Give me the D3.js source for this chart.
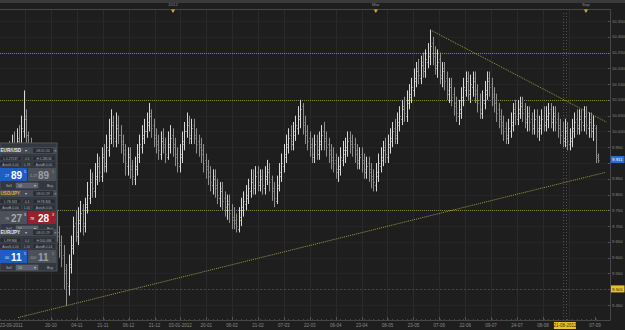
<!DOCTYPE html>
<html><head><meta charset="utf-8">
<script src="https://cdn.jsdelivr.net/npm/d3@7"></script>
<style>html,body{margin:0;padding:0;background:#1e1e1e;overflow:hidden}svg{display:block}text{font-family:"Liberation Sans",Arial,sans-serif}</style>
</head><body><svg id="c" width="625" height="330"></svg>
<script>
const opens=[9.86,9.88,9.92,9.90,9.94,9.92,9.96,9.93,9.98,9.95,10.00,10.05,9.99,9.96,9.93,9.91,9.86,9.85,9.81,9.80,9.76,9.75,9.71,9.69,9.72,9.67,9.65,9.61,9.56,9.51,9.57,9.63,9.71,9.67,9.71,9.75,9.70,9.77,9.79,9.85,9.81,9.85,9.90,9.86,9.93,9.89,9.94,9.98,10.03,9.97,10.02,9.99,9.97,9.94,9.89,9.93,9.89,9.85,9.88,9.92,9.95,9.99,10.00,10.02,10.06,10.02,9.99,9.97,9.93,9.98,9.96,9.92,9.95,9.99,9.96,9.93,9.89,9.92,9.96,10.00,10.03,9.98,10.02,9.99,9.97,9.96,9.94,9.91,9.89,9.87,9.83,9.86,9.83,9.79,9.82,9.79,9.75,9.78,9.75,9.73,9.72,9.69,9.72,9.75,9.77,9.79,9.81,9.85,9.82,9.87,9.83,9.86,9.82,9.85,9.88,9.85,9.82,9.78,9.82,9.86,9.89,9.92,9.95,9.99,9.96,9.99,10.01,10.04,10.08,10.03,10.00,9.98,9.96,9.92,9.97,9.93,9.96,10.00,9.98,9.96,9.94,9.92,9.91,9.87,9.88,9.91,9.93,9.94,9.98,9.97,9.96,9.94,9.90,9.93,9.91,9.87,9.90,9.88,9.86,9.83,9.86,9.89,9.91,9.95,9.92,9.95,9.97,10.01,9.98,10.02,10.04,10.08,10.05,10.09,10.11,10.13,10.16,10.20,10.17,10.22,10.19,10.22,10.24,10.28,10.25,10.20,10.23,10.17,10.20,10.17,10.12,10.15,10.12,10.09,10.05,10.06,10.10,10.13,10.17,10.12,10.14,10.17,10.13,10.10,10.06,10.09,10.12,10.17,10.15,10.12,10.10,10.07,10.05,10.03,10.01,9.98,10.00,10.02,10.07,10.04,10.06,10.09,10.07,10.03,10.06,10.04,10.01,10.05,10.00,10.01,10.05,10.02,10.04,10.07,10.03,10.06,10.04,10.02,10.00,9.97,10.01,9.96,9.97,10.00,10.04,10.01,10.05,10.02,10.06,10.01,10.04,10.00,10.01,9.925];
const highs=[9.95,9.94,9.96,9.96,9.97,9.99,10.00,10.01,10.02,10.05,10.13,10.07,10.00,9.98,9.95,9.93,9.89,9.87,9.84,9.82,9.79,9.77,9.75,9.74,9.75,9.70,9.67,9.64,9.58,9.61,9.67,9.73,9.75,9.76,9.78,9.77,9.79,9.84,9.88,9.87,9.90,9.93,9.92,9.95,9.96,9.99,10.04,10.07,10.05,10.06,10.05,10.02,9.99,9.96,9.95,9.95,9.91,9.92,9.96,9.99,10.02,10.04,10.06,10.09,10.07,10.04,10.01,9.99,10.00,10.01,9.98,10.00,10.02,10.01,9.98,9.95,9.96,10.00,10.03,10.06,10.05,10.04,10.04,10.01,9.99,9.98,9.96,9.93,9.91,9.89,9.88,9.88,9.85,9.84,9.84,9.81,9.80,9.80,9.77,9.76,9.74,9.76,9.79,9.81,9.83,9.85,9.88,9.88,9.89,9.89,9.88,9.88,9.89,9.91,9.90,9.86,9.84,9.86,9.90,9.93,9.96,9.99,10.01,10.02,10.03,10.05,10.08,10.10,10.09,10.05,10.02,10.00,9.98,9.99,9.99,10.00,10.02,10.03,10.00,9.98,9.96,9.95,9.93,9.92,9.95,9.97,9.98,10.00,10.00,9.99,9.98,9.96,9.95,9.95,9.93,9.92,9.92,9.90,9.88,9.90,9.93,9.95,9.97,9.98,9.99,10.01,10.03,10.04,10.06,10.08,10.10,10.11,10.13,10.15,10.17,10.20,10.22,10.23,10.24,10.25,10.26,10.28,10.322,10.30,10.27,10.26,10.25,10.22,10.22,10.19,10.17,10.17,10.14,10.11,10.10,10.14,10.17,10.19,10.19,10.18,10.19,10.19,10.15,10.12,10.13,10.16,10.19,10.19,10.17,10.14,10.12,10.09,10.07,10.05,10.03,10.04,10.06,10.09,10.10,10.10,10.11,10.11,10.09,10.08,10.08,10.06,10.07,10.07,10.05,10.07,10.08,10.08,10.09,10.09,10.08,10.08,10.06,10.04,10.03,10.04,10.03,10.01,10.04,10.06,10.07,10.07,10.07,10.08,10.08,10.06,10.06,10.05,10.02,9.93];
const lows=[9.83,9.85,9.87,9.88,9.89,9.90,9.91,9.92,9.93,9.94,9.98,9.96,9.92,9.89,9.87,9.84,9.81,9.79,9.76,9.74,9.71,9.69,9.67,9.66,9.65,9.60,9.57,9.50,9.447,9.48,9.55,9.61,9.65,9.64,9.68,9.67,9.68,9.74,9.77,9.79,9.79,9.83,9.84,9.84,9.87,9.87,9.92,9.96,9.95,9.95,9.96,9.93,9.90,9.86,9.86,9.85,9.83,9.83,9.86,9.90,9.93,9.96,9.98,10.00,9.98,9.95,9.93,9.91,9.91,9.93,9.90,9.91,9.93,9.92,9.89,9.87,9.87,9.90,9.94,9.98,9.96,9.96,9.96,9.93,9.92,9.90,9.87,9.85,9.83,9.81,9.80,9.79,9.77,9.76,9.75,9.73,9.72,9.71,9.69,9.69,9.68,9.68,9.70,9.73,9.75,9.77,9.79,9.80,9.80,9.81,9.81,9.80,9.80,9.83,9.81,9.78,9.76,9.77,9.81,9.84,9.87,9.90,9.93,9.94,9.94,9.97,9.99,10.01,9.99,9.96,9.94,9.92,9.90,9.90,9.91,9.91,9.94,9.94,9.92,9.90,9.88,9.87,9.85,9.84,9.86,9.89,9.90,9.92,9.93,9.92,9.90,9.88,9.88,9.87,9.85,9.85,9.84,9.82,9.81,9.81,9.84,9.87,9.89,9.90,9.90,9.93,9.95,9.96,9.96,10.00,10.02,10.03,10.03,10.07,10.09,10.11,10.14,10.15,10.15,10.17,10.17,10.20,10.21,10.21,10.18,10.17,10.15,10.14,10.13,10.10,10.09,10.08,10.05,10.03,10.02,10.04,10.08,10.11,10.10,10.09,10.11,10.09,10.06,10.04,10.04,10.07,10.10,10.11,10.08,10.06,10.03,10.01,9.99,9.97,9.96,9.96,9.98,10.00,10.02,10.02,10.04,10.03,10.01,10.00,10.00,9.99,9.99,9.98,9.97,9.99,10.00,10.00,10.01,10.01,10.00,10.00,9.98,9.96,9.95,9.95,9.94,9.94,9.95,9.98,9.99,9.99,10.00,10.00,9.99,9.98,9.98,9.97,9.90,9.90];
const closes=[9.88,9.91,9.90,9.93,9.92,9.95,9.94,9.97,9.96,10.01,10.04,9.99,9.95,9.93,9.90,9.87,9.84,9.82,9.79,9.77,9.74,9.72,9.70,9.71,9.68,9.64,9.60,9.55,9.52,9.58,9.64,9.70,9.68,9.72,9.74,9.71,9.76,9.80,9.84,9.82,9.86,9.89,9.87,9.92,9.90,9.95,9.99,10.02,9.98,10.01,9.99,9.96,9.93,9.90,9.92,9.88,9.86,9.89,9.93,9.96,9.98,10.00,10.03,10.05,10.01,9.98,9.96,9.94,9.97,9.95,9.93,9.96,9.98,9.95,9.92,9.90,9.93,9.97,10.00,10.02,9.99,10.01,9.98,9.96,9.95,9.93,9.90,9.88,9.86,9.84,9.85,9.82,9.80,9.81,9.78,9.76,9.77,9.74,9.72,9.71,9.70,9.73,9.76,9.78,9.80,9.82,9.84,9.83,9.86,9.84,9.85,9.83,9.86,9.87,9.84,9.81,9.79,9.83,9.87,9.90,9.93,9.96,9.98,9.97,10.00,10.02,10.05,10.07,10.02,9.99,9.97,9.95,9.93,9.96,9.94,9.97,9.99,9.97,9.95,9.93,9.91,9.90,9.88,9.89,9.92,9.94,9.95,9.97,9.96,9.95,9.93,9.91,9.92,9.90,9.88,9.89,9.87,9.85,9.84,9.87,9.90,9.92,9.94,9.93,9.96,9.98,10.00,9.99,10.03,10.05,10.07,10.06,10.10,10.12,10.14,10.17,10.19,10.18,10.21,10.20,10.23,10.25,10.27,10.24,10.21,10.22,10.18,10.19,10.16,10.13,10.14,10.11,10.08,10.06,10.07,10.11,10.14,10.16,10.13,10.15,10.16,10.12,10.09,10.07,10.10,10.13,10.16,10.14,10.11,10.09,10.06,10.04,10.02,10.00,9.99,10.01,10.03,10.06,10.05,10.07,10.08,10.06,10.04,10.05,10.03,10.02,10.04,10.01,10.02,10.04,10.03,10.05,10.06,10.04,10.05,10.03,10.01,9.99,9.98,10.00,9.97,9.98,10.01,10.03,10.02,10.04,10.03,10.05,10.02,10.03,10.01,10.02,9.92,9.911];

const xTickLabels=["20-10","04-11","21-11","06-12","21-12","03-01-2012","20-01","06-02","21-02","07-03","22-03","06-04","23-04","08-05","23-05","07-06","22-06","09-07","24-07","08-08","07-09"];
const xTickIdx=[21.6,32.5,43.5,54.4,65.4,76.3,87.3,98.2,109.2,120.1,131.1,142.0,153.0,163.9,174.9,185.8,196.8,207.7,218.7,229.7,251.7];
const firstLabel="23-09-2011";
const cursorLabel="21-08-2012";
const cursorIdx=239;
const topLabels=["2012","Mar","Sep"];
const topIdx=[73.2,159,247.9];
const yTicks=[9.45,9.50,9.55,9.60,9.65,9.70,9.75,9.80,9.85,9.90,9.95,10.00,10.05,10.10,10.15,10.20,10.25,10.30,10.35];
const hLevels=[10.25,10.10,9.75];
const alertLevel=9.501;
const lastPrice=9.911;
const trendUpper=[[182,10.322],[256.5,10.03]];
const trendLower=[[7.6,9.41],[256,9.87]];

const svg=d3.select("#c");
const W=625,H=330,plotR=610,plotT=9,plotB=320;
const x=d3.scaleLinear().domain([0,253]).range([0,598]);
const y=d3.scaleLinear().domain([9.45,10.35]).range([305,21]);

svg.append("rect").attr("width",W).attr("height",H).attr("fill","#1e1e1e");
svg.append("rect").attr("width",W).attr("height",3).attr("fill","#3a3a3a");

const g=svg.append("g");
const gridIdx=[10.6].concat(xTickIdx.slice(0,20)).concat([240.7]);
g.selectAll(".vg").data(gridIdx).join("line")
 .attr("x1",d=>Math.round(x(d))+0.5).attr("x2",d=>Math.round(x(d))+0.5)
 .attr("y1",plotT).attr("y2",plotB).attr("stroke","#2a2a2a");
g.selectAll(".hg").data(yTicks).join("line")
 .attr("x1",0).attr("x2",plotR).attr("y1",d=>Math.round(y(d))+0.5).attr("y2",d=>Math.round(y(d))+0.5)
 .attr("stroke","#252525");

[cursorIdx-0.6,cursorIdx+0.6].forEach(v=>{
 g.append("line").attr("x1",Math.round(x(v))+0.5).attr("x2",Math.round(x(v))+0.5)
  .attr("y1",plotT+4).attr("y2",plotB).attr("stroke","#505050").attr("stroke-dasharray","1,2");
});

g.append("line").attr("x1",0).attr("x2",plotR+0.5).attr("y1",plotT+0.5).attr("y2",plotT+0.5).attr("stroke","#474747");
g.append("line").attr("x1",plotR+0.5).attr("x2",plotR+0.5).attr("y1",plotT).attr("y2",plotB).attr("stroke","#474747");
g.append("line").attr("x1",0).attr("x2",plotR+0.5).attr("y1",plotB+0.5).attr("y2",plotB+0.5).attr("stroke","#474747");
g.selectAll(".mt").data(d3.range(0,254,2)).join("line")
 .attr("x1",d=>Math.round(x(d))+0.5).attr("x2",d=>Math.round(x(d))+0.5)
 .attr("y1",plotB-1).attr("y2",plotB).attr("stroke","#474747");
g.selectAll(".Mt").data(xTickIdx).join("line")
 .attr("x1",d=>Math.round(x(d))+0.5).attr("x2",d=>Math.round(x(d))+0.5)
 .attr("y1",plotB-3).attr("y2",plotB).attr("stroke","#555");
g.selectAll(".yt").data(yTicks).join("line")
 .attr("x1",plotR-2).attr("x2",plotR).attr("y1",d=>Math.round(y(d))+0.5).attr("y2",d=>Math.round(y(d))+0.5).attr("stroke","#555");

g.selectAll(".hl").data(hLevels).join("line")
 .attr("x1",0).attr("x2",plotR).attr("y1",d=>Math.round(y(d))+0.5).attr("y2",d=>Math.round(y(d))+0.5)
 .attr("stroke","#87873a").attr("stroke-dasharray","1,1");
g.append("line").attr("x1",0).attr("x2",plotR).attr("y1",Math.round(y(alertLevel))+0.5).attr("y2",Math.round(y(alertLevel))+0.5)
 .attr("stroke","#45453a").attr("stroke-dasharray","2,2");

[trendUpper,trendLower].forEach(t=>{
 g.append("line").attr("x1",x(t[0][0])).attr("y1",y(t[0][1])).attr("x2",x(t[1][0])).attr("y2",y(t[1][1]))
  .attr("stroke","#9a9a44").attr("stroke-dasharray","1,1");
});

const bars=g.append("g");
closes.forEach((c,i)=>{
 const o=opens[i],h=highs[i],l=lows[i];
 const xi=Math.round(x(i))+0.5;
 const col=c>=o?"#d8d8d8":"#8e8e8e";
 bars.append("line").attr("x1",xi).attr("x2",xi).attr("y1",y(h)).attr("y2",y(l)).attr("stroke",col);
 bars.append("line").attr("x1",xi-1).attr("x2",xi).attr("y1",Math.round(y(o))+0.5).attr("y2",Math.round(y(o))+0.5).attr("stroke",col);
 bars.append("line").attr("x1",xi).attr("x2",xi+1).attr("y1",Math.round(y(c))+0.5).attr("y2",Math.round(y(c))+0.5).attr("stroke",col);
});

svg.selectAll(".yl").data(yTicks.filter(v=>Math.abs(v-lastPrice)>0.02&&Math.abs(v-alertLevel)>0.02)).join("text")
 .attr("x",612).attr("y",d=>y(d)+1.5).attr("font-size",4.2).attr("fill","#8a8a8a").text(d=>d.toFixed(3));
function priceTag(v,bg,fg){
 const yy=y(v);
 svg.append("rect").attr("x",611).attr("y",yy-3.5).attr("width",13.5).attr("height",7).attr("fill",bg);
 svg.append("text").attr("x",612).attr("y",yy+1.6).attr("font-size",4.4).attr("fill",fg).text(v.toFixed(3));
}
priceTag(lastPrice,"#2b6fd4","#ffffff");
priceTag(alertLevel,"#e8c22a","#2a2200");

svg.append("text").attr("x",0).attr("y",327).attr("font-size",4.5).attr("fill","#8a8a8a").text(firstLabel);
svg.selectAll(".xl").data(xTickIdx).join("text")
 .attr("x",d=>x(d)).attr("y",327).attr("text-anchor","middle").attr("font-size",4.5).attr("fill","#8a8a8a")
 .text((d,i)=>xTickLabels[i]);
const cx=x(cursorIdx);
svg.append("rect").attr("x",cx-11).attr("y",322).attr("width",22).attr("height",7).attr("fill","#e8c22a");
svg.append("text").attr("x",cx).attr("y",327).attr("text-anchor","middle").attr("font-size",4.5).attr("fill","#3a2e00").text(cursorLabel);

svg.selectAll(".tl").data(topIdx).join("text")
 .attr("x",d=>x(d)).attr("y",6.3).attr("text-anchor","middle").attr("font-size",4.3).attr("fill","#8a8a8a")
 .text((d,i)=>topLabels[i]);
svg.selectAll(".tm").data(topIdx).join("path")
 .attr("d",d=>{const c=x(d);return `M${c-2},${plotT+0.5}L${c+2},${plotT+0.5}L${c},${plotT+4}Z`;})
 .attr("fill","#d8b030");

const P=svg.append("g");
P.append("rect").attr("x",0).attr("y",143).attr("width",57).attr("height",128).attr("fill","#333840").attr("stroke","#4c525c");
const secs=[
 {y:147,pair:"EUR/USD",pc:"#e8e8e8",time:"08:01:20",lo:"L:1.27137",sp:"0.6",hi:"H:1.28134",a:"AutoS-0.00",m:"0.78",b:"AutoB-0.00",big1:"89",big2:"89",sm:"1.27",s1:"#1f5cc4",s2:"#4c5159",t2:"#9aa0a8"},
 {y:190,pair:"USD/JPY",pc:"#e0a848",time:"08:01:29",lo:"L:78.163",sp:"0.4",hi:"H:78.306",a:"AutoB-0.00",m:"1.00",b:"AutoS-0.00",big1:"27",big2:"28",sm:"78",s1:"#4c5159",s2:"#9a1f2e",t2:"#ffffff"},
 {y:229,pair:"EUR/JPY",pc:"#e8e8e8",time:"08:01:29",lo:"L:99.966",sp:"0.4",hi:"H:100.084",a:"AutoS-0.00",m:"1.00",b:"AutoB-0.04",big1:"11",big2:"11",sm:"100",s1:"#1f5cc4",s2:"#4c5159",t2:"#9aa0a8"}
];
secs.forEach((s,k)=>{
 const y0=s.y;
 P.append("rect").attr("x",0).attr("y",y0).attr("width",57).attr("height",7).attr("fill","#454b54");
 P.append("text").attr("x",0.5).attr("y",y0+5.3).attr("font-size",4.6).attr("font-weight","bold").attr("fill",s.pc).text(s.pair);
 P.append("rect").attr("x",33).attr("y",y0+1).attr("width",20).attr("height",5).attr("fill","#2a2e35");
 P.append("text").attr("x",43).attr("y",y0+5).attr("text-anchor","middle").attr("font-size",3.5).attr("fill","#9aa0a8").text(s.time);
 P.append("text").attr("x",55.5).attr("y",y0+5).attr("text-anchor","middle").attr("font-size",4).attr("fill","#c0c4c8").text("×");
 P.append("text").attr("x",26).attr("y",y0+5).attr("text-anchor","middle").attr("font-size",4).attr("fill","#c0c4c8").text("▾");
 [[0,21,s.lo,s.a],[23,8,s.sp,s.m],[33,22,s.hi,s.b]].forEach(c=>{
  P.append("rect").attr("x",c[0]).attr("y",y0+9).attr("width",c[1]).attr("height",4.5).attr("fill","#262a31").attr("stroke","#4a505a").attr("stroke-width",0.4);
  P.append("text").attr("x",c[0]+c[1]/2).attr("y",y0+12.5).attr("text-anchor","middle").attr("font-size",3.3).attr("fill","#b0b6bd").text(c[2]);
  P.append("rect").attr("x",c[0]).attr("y",y0+15).attr("width",c[1]).attr("height",4.5).attr("fill","#262a31").attr("stroke","#4a505a").attr("stroke-width",0.4);
  P.append("text").attr("x",c[0]+c[1]/2).attr("y",y0+18.5).attr("text-anchor","middle").attr("font-size",3.3).attr("fill","#b0b6bd").text(c[3]);
 });
 const by=y0+21;
 P.append("rect").attr("x",0).attr("y",by).attr("width",27).attr("height",13).attr("fill",s.s1);
 P.append("rect").attr("x",28).attr("y",by).attr("width",28).attr("height",13).attr("fill",s.s2);
 P.append("text").attr("x",5).attr("y",by+8.5).attr("font-size",3.8).attr("fill",s.s1==="#1f5cc4"?"#dfe8ff":"#aab0b8").text(s.sm.slice(-2));
 P.append("text").attr("x",11).attr("y",by+10.5).attr("font-size",10).attr("font-weight","bold").attr("fill",s.s1==="#1f5cc4"?"#ffffff":"#a4aab2").text(s.big1);
 P.append("text").attr("x",24).attr("y",by+5).attr("font-size",3.5).attr("fill","#dfe8ff").text(k===1?"3":"5");
 P.append("text").attr("x",30).attr("y",by+8.5).attr("font-size",3.8).attr("fill",s.t2).text(s.sm);
 P.append("text").attr("x",38).attr("y",by+10.5).attr("font-size",10).attr("font-weight","bold").attr("fill",s.t2).text(s.big2);
 P.append("text").attr("x",52).attr("y",by+5).attr("font-size",3.5).attr("fill",s.t2).text(k===1?"3":"5");
 const sy=by+14;
 P.append("text").attr("x",6).attr("y",sy+4.5).attr("font-size",3.5).attr("fill","#b0b6bd").text("Sell");
 P.append("rect").attr("x",16).attr("y",sy+1).attr("width",22).attr("height",5).attr("fill","#5a606a").attr("stroke","#6e747e").attr("stroke-width",0.4);
 P.append("text").attr("x",18).attr("y",sy+4.8).attr("font-size",3.5).attr("fill","#c8ccd0").text("10");
 P.append("text").attr("x",34).attr("y",sy+4.8).attr("font-size",3.5).attr("fill","#c8ccd0").text("▾");
 P.append("text").attr("x",47).attr("y",sy+4.5).attr("font-size",3.5).attr("fill","#b0b6bd").text("Buy");
});
</script></body></html>
